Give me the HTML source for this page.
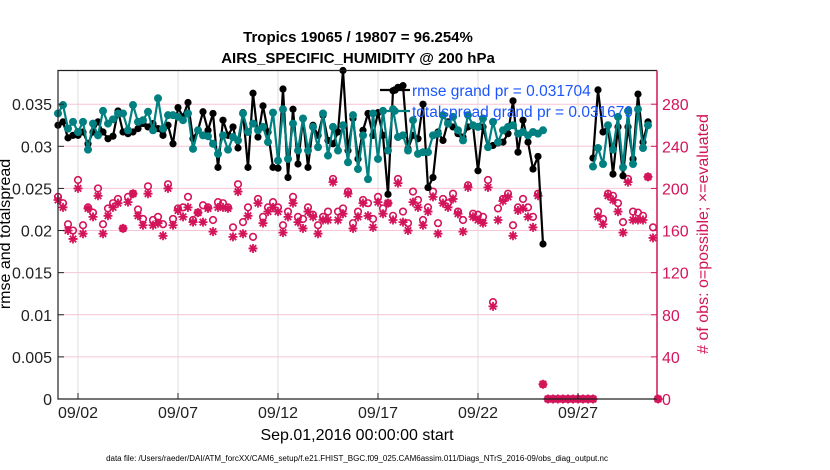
<!DOCTYPE html>
<html><head><meta charset="utf-8"><style>
html,body{margin:0;padding:0;background:#fff;}
svg{display:block;font-family:"Liberation Sans",Arial,sans-serif;}
</style></head><body>
<svg id="chart" width="830" height="470" viewBox="0 0 830 470" xmlns="http://www.w3.org/2000/svg">
<text x="358" y="42" text-anchor="middle" font-size="15" font-weight="bold">Tropics 19065 / 19807 = 96.254%</text>
<text x="358" y="63" text-anchor="middle" font-size="15" font-weight="bold">AIRS_SPECIFIC_HUMIDITY @ 200 hPa</text>
<g id="grid"></g>
<g id="series"></g>
<g id="axes"></g>
<text transform="translate(10,234) rotate(-90)" text-anchor="middle" font-size="16">rmse and totalspread</text>
<text transform="translate(708,234) rotate(-90)" text-anchor="middle" font-size="16" fill="#d4145a"># of obs: o=possible; ×=evaluated</text>
<text x="357" y="440" text-anchor="middle" font-size="16">Sep.01,2016 00:00:00 start</text>
<text x="357" y="461" text-anchor="middle" font-size="8">data file: /Users/raeder/DAI/ATM_forcXX/CAM6_setup/f.e21.FHIST_BGC.f09_025.CAM6assim.011/Diags_NTrS_2016-09/obs_diag_output.nc</text>
<g id="legend"></g>
</svg>
<script>
const rmse = [32.5,32.9,31.0,31.3,31.3,31.7,30.3,31.7,32.9,31.7,30.9,31.2,34.2,31.7,31.5,31.7,32.1,32.7,32.3,32.7,32.1,31.3,32.5,30.3,34.6,33.5,35.2,30.9,31.9,34.1,31.9,33.9,27.5,33.1,31.3,32.3,29.8,34.0,27.5,36.3,31.1,
34.8,31.7,27.5,27.4,36.8,26.3,34.4,27.9,33.3,27.5,32.5,31.3,33.7,30.7,30.3,31.7,39.0,29.5,33.3,28.5,31.9,33.9,31.3,34.0,31.3,24.3,36.6,37.0,37.2,29.7,31.3,30.9,35.0,25.1,26.3,31.7,30.7,32.9,32.3,31.5,
31.1,32.3,32.5,27.1,32.3,29.9,30.1,30.4,30.5,31.5,35.4,29.3,33.1,30.5,27.3,28.8,18.4,
null,null,null,null,null,null,null,null,null,
28.6,36.7,31.7,32.5,26.7,32.3,26.5,32.3,28.5,36.2,30.5,32.9,null,null];
const spread = [33.9,34.9,32.1,32.9,31.7,32.9,29.6,32.7,31.3,34.2,32.7,33.2,33.9,33.9,31.9,34.9,32.9,33.1,34.1,31.9,35.7,32.1,33.7,33.7,33.5,33.1,33.9,29.7,31.9,31.3,31.2,30.3,29.1,31.3,29.6,31.1,30.7,33.9,31.7,32.7,31.9,
32.3,30.5,34.0,28.3,34.4,28.5,32.7,29.5,33.3,29.5,32.3,29.9,33.9,28.9,32.3,29.5,32.5,28.1,33.7,27.3,31.3,26.1,33.9,28.5,34.2,29.5,34.4,31.1,31.3,29.5,33.1,29.1,29.3,29.3,31.3,31.5,33.7,32.7,33.5,31.9,
30.7,33.7,32.5,32.3,33.3,29.9,32.9,30.5,31.9,32.3,32.5,31.5,31.7,31.3,31.7,31.5,31.9,
null,null,null,null,null,null,null,null,null,
27.6,29.8,27.9,32.5,29.6,33.5,27.5,34.2,27.9,34.4,29.8,32.5,null,null];
const possible = [192,186,166,160,208,165,182,177,200,166,181,186,190,162,192,195,180,171,202,170,173,166,204,171,181,182,192,170,177,184,182,170,187,186,182,163,204,168,182,154,190,
173,182,187,182,165,178,192,173,171,182,175,165,173,178,209,178,181,197,167,178,189,186,171,192,181,186,174,209,178,167,197,189,170,182,197,167,190,186,195,
178,170,203,176,175,173,208,92,181,190,195,165,182,190,182,173,195,14,
0,0,0,0,0,0,0,0,0,0,
178,171,195,193,186,168,209,178,177,174,211,163,0];
const evaluated = [189,182,160,152,200,157,181,173,193,157,174,182,186,162,187,195,174,165,195,165,167,155,200,165,179,173,182,168,177,168,181,159,182,182,181,154,197,157,174,143,186,
167,178,182,178,158,173,186,168,162,178,173,157,170,170,206,170,176,195,162,173,186,174,163,187,176,186,170,205,168,160,187,182,165,178,192,157,186,182,190,
176,159,201,173,170,167,201,88,170,188,192,155,179,181,173,163,193,14,
0,0,0,0,0,0,0,0,0,0,
173,166,193,189,178,158,206,170,170,170,211,153,0];
const leftTicks = [0,0.005,0.01,0.015,0.02,0.025,0.03,0.035];
const leftTickLabels = ["0","0.005","0.01","0.015","0.02","0.025","0.03","0.035"];
const rightTicks = [0,40,80,120,160,200,240,280];
const xTickDays = [1,6,11,16,21,26];
const xTickLabels = ["09/02","09/07","09/12","09/17","09/22","09/27"];
const legendLabels = ["rmse grand pr = 0.031704","totalspread grand pr = 0.031679"];
const valueScale = 0.001;
const stepDays = 0.25;

const PL=58, PR=657, PT=70.5, PB=399;
const XMAX=29.95, YMAX=0.039, RMAX=312;
const X = d => PL + d/XMAX*(PR-PL);
const YL = v => PB - v/YMAX*(PB-PT);
const YR = c => PB - c/RMAX*(PB-PT);
const NS="http://www.w3.org/2000/svg";
function mk(tag, attrs, parent){const e=document.createElementNS(NS,tag);for(const k in attrs)e.setAttribute(k,attrs[k]);parent.appendChild(e);return e;}
const RED="#d4145a", TEAL="#008080";
const grid=document.getElementById('grid'), axes=document.getElementById('axes'), ser=document.getElementById('series'), leg=document.getElementById('legend');

xTickDays.forEach((d,i)=>{
  const l=mk('line',{x1:X(d),x2:X(d),y1:PT,y2:PB,stroke:'#dcdcdc','stroke-width':1},grid);
  
  
  const t=mk('line',{x1:X(d),x2:X(d),y1:PB,y2:PB-6,stroke:'#222','stroke-width':1},axes);
  
  
  const tx=mk('text',{x:X(d),y:PB+19,'text-anchor':'middle','font-size':16,fill:'#222'},axes);
  tx.textContent=xTickLabels[i];
  
  
});
rightTicks.forEach(c=>{
  if(c===0)return;
  const l=mk('line',{x1:PL,x2:PR,y1:YR(c),y2:YR(c),stroke:'#f7c6d6','stroke-width':1},grid);
  
  
});
leftTicks.forEach((v,i)=>{
  const tx=mk('text',{x:PL-6,y:YL(v)+6,'text-anchor':'end','font-size':16,fill:'#222'},axes);
  tx.textContent=leftTickLabels[i];
  
  
  const t=mk('line',{x1:PL,x2:PL+6,y1:YL(v),y2:YL(v),stroke:'#222'},axes);
  
  
});
rightTicks.forEach(c=>{
  const tx=mk('text',{x:PR+5,y:YR(c)+6,'font-size':16,fill:RED},axes);
  tx.textContent=String(c);
  
  
  const t=mk('line',{x1:PR-6,x2:PR,y1:YR(c),y2:YR(c),stroke:RED},axes);
  
  
});
const fr1=mk('path',{d:`M${PR},${PT}H${PL}V${PB}H${PR}`,fill:'none',stroke:'#222','stroke-width':1.2},axes);


const fr2=mk('line',{x1:PR,x2:PR,y1:PT,y2:PB,stroke:RED,'stroke-width':1.5},axes);



function star(x,y,g){
  const s=4.5, d=s*0.72;
  mk('path',{d:`M${x-s},${y}H${x+s}M${x},${y-s}V${y+s}M${x-d},${y-d}L${x+d},${y+d}M${x-d},${y+d}L${x+d},${y-d}`,stroke:RED,'stroke-width':1.8,fill:'none'},g);
}
const pg=mk('g',{},ser);


const eg=mk('g',{},ser);


possible.forEach((c,k)=>{
  if(c==null)return;
  const m=mk('circle',{cx:X(k*stepDays),cy:YR(c),r:3.3,fill:'none',stroke:RED,'stroke-width':1.6},pg);
  
  
});
evaluated.forEach((c,k)=>{
  if(c==null)return;
  const g=mk('g',{},eg);
  
  
  star(X(k*stepDays),YR(c),g);
});
function lineSeries(arr,color,r,name){
  const g=mk('g',{},ser);
  
  
  let d='',pen=false;
  arr.forEach((v,k)=>{
    if(v==null){pen=false;return;}
    d+=(pen?'L':'M')+X(k*stepDays).toFixed(1)+','+YL(v*valueScale).toFixed(1);pen=true;
  });
  mk('path',{d:d,fill:'none',stroke:color,'stroke-width':2.2,'stroke-linejoin':'round'},g);
  arr.forEach((v,k)=>{
    if(v==null)return;
    const m=mk('circle',{cx:X(k*stepDays),cy:YL(v*valueScale),r:r,fill:color},g);
    
    
  });
}
lineSeries(rmse,'#000',3.6,'rmse-series');
lineSeries(spread,TEAL,4,'totalspread-series');

[['#000',90],[TEAL,111]].forEach((s,i)=>{
  const l=mk('line',{x1:380,x2:410,y1:s[1],y2:s[1],stroke:s[0],'stroke-width':2.2},leg);
  
  
  const c=mk('circle',{cx:395,cy:s[1],r:3.8,fill:s[0]},leg);
  
  
  const t=mk('text',{x:412,y:s[1]+6,'font-size':15.5,fill:'#1a55ff'},leg);
  t.textContent=legendLabels[i];
  
  
});
</script>
</body></html>
